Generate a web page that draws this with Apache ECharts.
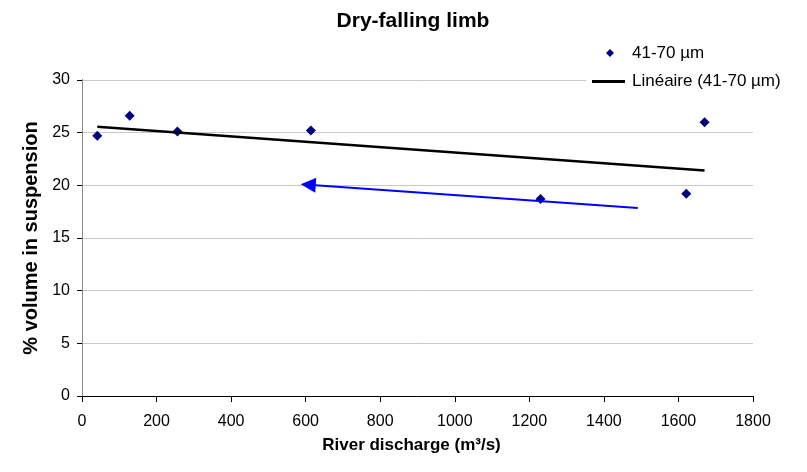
<!DOCTYPE html>
<html>
<head>
<meta charset="utf-8">
<script src="https://cdn.jsdelivr.net/npm/echarts@6/dist/echarts.min.js"></script>
<style>
html,body{margin:0;padding:0;background:#fff;}
#c{width:807px;height:472px;}
</style>
</head>
<body>
<div id="c"></div>
<script>
// ---- data ----
const discharge = [41, 128, 256, 614, 1230, 1621, 1670];
const volumePct = [24.7, 26.6, 25.1, 25.2, 18.7, 19.2, 26.0];
const seriesName = '41-70 µm';
const trendName = 'Linéaire (41-70 µm)';
const arrowFrom = [1491, 17.85];
const arrowTo = [607, 20.06];
const titleText = 'Dry-falling limb';
const xName = 'River discharge (m³/s)';
const yName = '% volume in suspension';

// linear regression (trendline) computed from the data
const n = discharge.length;
const mx = discharge.reduce((a, b) => a + b, 0) / n;
const my = volumePct.reduce((a, b) => a + b, 0) / n;
let sxy = 0, sxx = 0;
for (let i = 0; i < n; i++) { sxy += (discharge[i] - mx) * (volumePct[i] - my); sxx += (discharge[i] - mx) ** 2; }
const slope = sxy / sxx, intercept = my - slope * mx;
const xMin = Math.min(...discharge), xMax = Math.max(...discharge);
const trendData = [[xMin, intercept + slope * xMin], [xMax, intercept + slope * xMax]];

const FONT = "'Liberation Sans', Arial, sans-serif";
const chart = echarts.init(document.getElementById('c'), null, { renderer: 'canvas' });
chart.setOption({
  animation: false,
  backgroundColor: '#fff',
  title: {
    text: titleText, left: 413, top: 11, textAlign: 'center', padding: 0,
    textStyle: { fontFamily: FONT, fontSize: 21, fontWeight: 'bold', color: '#000' }
  },
  legend: [{
    orient: 'vertical', left: 606, top: 44.5, padding: 0,
    itemWidth: 8, itemHeight: 8,
    textStyle: { fontFamily: FONT, fontSize: 17, color: '#000', padding: [0, 0, 0, 13] },
    data: [{ name: seriesName, icon: 'diamond', itemStyle: { color: '#000080' } }]
  }, {
    orient: 'vertical', left: 586, top: 67,
    padding: [6, 10, 7, 6],
    backgroundColor: '#fff',
    itemWidth: 33, itemHeight: 3,
    textStyle: { fontFamily: FONT, fontSize: 17, color: '#000', padding: [0, 0, 0, 2] },
    data: [{ name: trendName, icon: 'rect', itemStyle: { color: '#000' } }]
  }],
  grid: { left: 82, right: 54, top: 80, bottom: 76 },
  xAxis: {
    type: 'value', min: 0, max: 1800, interval: 200,
    name: xName, nameLocation: 'middle', nameGap: 41,
    nameTextStyle: { fontFamily: FONT, fontSize: 17, fontWeight: 'bold', color: '#000', padding: [0, 12, 0, 0] },
    axisLine: { show: true, onZero: false, lineStyle: { color: '#000', width: 1 } },
    axisTick: { show: true, length: 6, lineStyle: { color: '#000' } },
    axisLabel: { margin: 18, fontFamily: FONT, fontSize: 16, color: '#000', formatter: v => String(v) },
    splitLine: { show: false }
  },
  yAxis: [{
    type: 'value', min: 0, max: 30, interval: 5,
    name: yName, nameLocation: 'middle', nameGap: 39, nameRotate: 90,
    nameTextStyle: { fontFamily: FONT, fontSize: 20, fontWeight: 'bold', color: '#000' },
    axisLine: { show: true, onZero: false, lineStyle: { color: '#000', width: 1 } },
    axisTick: { show: true, length: 5, lineStyle: { color: '#000' } },
    axisLabel: { margin: 12, fontFamily: FONT, fontSize: 16, color: '#000' },
    splitLine: { show: true, lineStyle: { color: '#c8c8c8', width: 1 } }
  }, {
    type: 'value', min: 0, max: 30, interval: 5, position: 'right',
    axisLine: { show: true, lineStyle: { color: '#888', width: 1 } },
    axisTick: { show: false }, axisLabel: { show: false }, splitLine: { show: false }
  }],
  series: [{
    name: seriesName, type: 'scatter', symbol: 'diamond', symbolSize: 10,
    itemStyle: { color: '#000080', opacity: 1 },
    data: discharge.map((x, i) => [x, volumePct[i]]),
    markLine: {
      silent: true, animation: false,
      symbol: ['none', 'triangle'], symbolSize: [15, 15],
      label: { show: false },
      lineStyle: { color: '#0000ff', width: 2, type: 'solid' },
      emphasis: { disabled: true },
      data: [[{ coord: arrowFrom }, { coord: arrowTo }]]
    }
  }, {
    name: trendName, type: 'line', symbol: 'none', showSymbol: false,
    lineStyle: { color: '#000', width: 2.5 }, itemStyle: { color: '#000' },
    data: trendData, z: 3
  }]
});
</script>
</body>
</html>
